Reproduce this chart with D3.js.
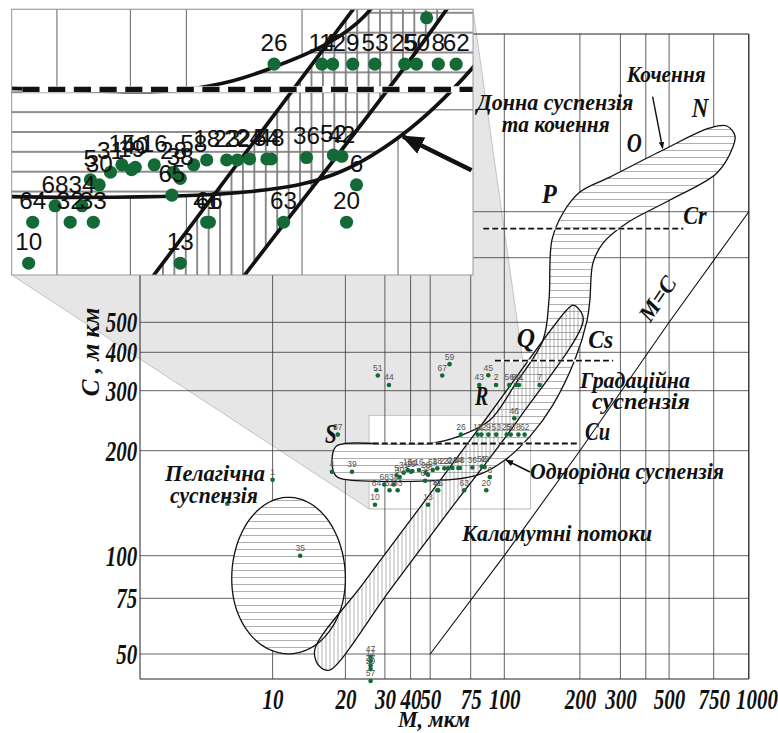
<!DOCTYPE html>
<html>
<head>
<meta charset="utf-8">
<script src="https://cdn.jsdelivr.net/npm/d3@7"></script>
<style>
  body { margin: 0; background: #fff; }
  svg { display: block; }
  .ann { font-family: "Liberation Serif", serif; font-weight: bold; font-style: italic; fill: #111; }
</style>
</head>
<body>
<svg width="778" height="733"></svg>
<script>
// axis ticks
const mTicks = [10, 20, 30, 40, 50, 75, 100, 200, 300, 400, 500, 750, 1000];
const mTickLabels = [10, 20, 30, 40, 50, 75, 100, 200, 300, 500, 750, 1000];
const cTicks = [50, 75, 100, 200, 300, 400, 500, 750, 1000];
const cTickLabels = [50, 75, 100, 200, 300, 400, 500];

// samples: label, M (mkm), C (mkm)
const pointLabels = ['51','44','67','59','45','43','2','56','60','61','7','46','37','4','39','1','11','35',
  '47','17','27','29','57','26','14','12','9','53','25','50','8','62','64','10','68','32','33','34','30','5',
  '31','15','19','40','16','28','38','65','58','18','23','22','24','54','48','36','52','42','6','20','63','41','66','13'];
const pointM = [27.9,31.4,56.4,60.7,87.2,80.7,93.2,104.7,111.3,114.4,138.3,109.6,18.6,17.6,21.4,10.0,6.5,13.0,
  25.9,25.9,25.9,25.9,25.9,68.0,79.6,82.2,87.3,93.3,102.2,106.1,113.8,120.5,27.5,27.1,29.8,31.6,34.6,33.1,35.4,34.2,
  37.0,38.7,40.2,40.8,44.0,47.5,48.8,47.2,51.3,53.7,57.6,59.8,62.4,66.3,67.3,76.0,82.4,84.5,88.3,85.7,70.3,53.7,54.2,48.8];
const pointC = [336,313,336,366,337,313,313,313,313,313,313,249,223,174,174,165,141,100,
  49,47.5,46,44.8,41.1,223,223,223,223,223,223,223,223,223,154,140,160,154,154,160,168,170,
  173,176,174,175,176,173,170.5,164,176,178,178,178,178.4,178.4,178.4,179,180,179.5,168,154,154,154,154,140];

// N-O-P-Q-R-S band (rolling, graded and uniform suspension), [M, C]
const suspensionBand = [[19.9,210],[50,210],[67.4,221],[88.5,246],[110,313],[142.6,438],[150.6,575],[154.8,838],
  [171.3,992],[200,1131],[270,1242],[472,1471],[725,1688],[836,1709],[893,1606],[878,1499],[770,1274],[504,1076],
  [323,932],[252,822],[228,726],[221,575],[215,507],[191,378],[156,272],[127,221],[100.6,188],[82.3,172],
  [62.8,165.4],[19.9,165.4],[18.3,169.2],[17.6,187],[18.3,206]];
// turbidity currents band, [M, C]
const turbidityBand = [[15.0,52.2],[23.8,82.3],[40,126.6],[87.3,253.7],[177.2,540],[187.7,557],[196.5,547],
  [206.9,507],[114.4,248.4],[61.1,135.7],[31.8,79.4],[17.27,44.5],[16.16,44.8],[15.12,47.5]];
// pelagic suspension ellipse: centre [M, C], half axes in decades
const pelagicCentre = [11.64, 85.8];
const pelagicRadius = [0.235, 0.234];

// Cr, Cs, Cu levels
const levelC = [899, 376, 210];
const levelFromM = [83.5, 92.3, 26.5];
const levelToM = [569, 279, 196.5];
// M = C line
const mcLine = [50, 100, 200, 500, 1000];
// arrows [M, C] from -> to
const uniformArrow = [[126.6, 173.8], [101.6, 188]];
const rollingArrow = [[427, 2053], [470, 1487]];
// magnified region
const zoomM = [25.5, 127.2];
const zoomC = [136.2, 254.1];

const plotTop = 34, plotBottom = 679, plotLeft = 140;
const x = d3.scaleLog().domain(mTicks)
  .range([272.6, 345.4, 384.9, 410.6, 430.2, 470.7, 504.3, 579.9, 620.4, 645.8, 669.1, 713.7, 748.8]);
const y = d3.scaleLog().domain(cTicks)
  .range([654, 598.3, 555.7, 450.7, 390.7, 352.3, 322.3, 257.7, 211.7]);
const plotRight = x(1000);

const svg = d3.select('svg');
const defs = svg.append('defs');

const hatch = (id, w, h, x1, y1, x2, y2) => {
  defs.append('pattern').attr('id', id).attr('patternUnits', 'userSpaceOnUse')
    .attr('width', w).attr('height', h)
    .append('line').attr('x1', x1).attr('y1', y1).attr('x2', x2).attr('y2', y2)
    .attr('stroke', '#7a7a7a').attr('stroke-width', 0.6);
};
hatch('hatchH', 10, 7, 0, 3.5, 10, 3.5);
hatch('hatchV', 4, 10, 2, 0, 2, 10);

defs.append('marker').attr('id', 'arrow').attr('viewBox', '0 0 10 10')
  .attr('refX', 9).attr('refY', 5).attr('markerWidth', 5).attr('markerHeight', 5)
  .attr('orient', 'auto')
  .append('path').attr('d', 'M0,1L10,5L0,9Z').attr('fill', '#111');

// magnifier connector
const inset = {x0: 11.7, y0: 9.3, x1: 473, y1: 275};
const zx0 = x(zoomM[0]), zx1 = x(zoomM[1]), zy0 = y(zoomC[1]), zy1 = y(zoomC[0]);
svg.append('path')
  .attr('d', `M${inset.x0},${inset.y0}L${inset.x1},${inset.y0}L${zx1},${zy0}L${zx1},${zy1}L${zx0},${zy1}L${inset.x0},${inset.y1}Z`)
  .attr('fill', '#e6e6e6').attr('stroke', '#b0b0b0').attr('stroke-width', 0.7);
svg.append('rect').attr('x', zx0).attr('y', zy0).attr('width', zx1 - zx0).attr('height', zy1 - zy0)
  .attr('fill', '#fff').attr('stroke', '#b0b0b0').attr('stroke-width', 0.7);

const wrap = svg.append('g').attr('fill', '#555');
const content = wrap.append('g').attr('id', 'content');

// grid
content.append('g').selectAll('line').data(mTicks).join('line')
  .attr('x1', d => x(d)).attr('x2', d => x(d)).attr('y1', plotTop).attr('y2', plotBottom)
  .attr('stroke', '#3a3a3a').attr('stroke-width', 0.8).attr('vector-effect', 'non-scaling-stroke');
content.append('g').selectAll('line').data(cTicks).join('line')
  .attr('x1', plotLeft).attr('x2', plotRight).attr('y1', d => y(d)).attr('y2', d => y(d))
  .attr('stroke', '#3a3a3a').attr('stroke-width', 0.8).attr('vector-effect', 'non-scaling-stroke');
content.append('rect').attr('x', plotLeft).attr('y', plotTop)
  .attr('width', plotRight - plotLeft).attr('height', plotBottom - plotTop)
  .attr('fill', 'none').attr('stroke', '#222').attr('stroke-width', 1).attr('vector-effect', 'non-scaling-stroke');

// regions
const closed = d3.line().x(d => x(d[0])).y(d => y(d[1])).curve(d3.curveCatmullRomClosed.alpha(0.5));
const ellipse = d3.range(0, 360, 4).map(a => {
  const t = a * Math.PI / 180;
  return [Math.pow(10, Math.log10(pelagicCentre[0]) + pelagicRadius[0] * Math.cos(t)),
          Math.pow(10, Math.log10(pelagicCentre[1]) + pelagicRadius[1] * Math.sin(t))];
});
const ellipsePath = d3.line().x(d => x(d[0])).y(d => y(d[1])).curve(d3.curveLinearClosed)(ellipse);
const regions = [
  {d: ellipsePath, hatch: 'hatchH'},
  {d: closed(suspensionBand), hatch: 'hatchH'},
  {d: closed(turbidityBand), hatch: 'hatchV'}
];
const reg = content.append('g');
regions.forEach(r => reg.append('path').attr('d', r.d).attr('fill', '#fff'));
regions.forEach(r => reg.append('path').attr('d', r.d).attr('fill', `url(#${r.hatch})`));
regions.forEach(r => reg.append('path').attr('d', r.d).attr('fill', 'none')
  .attr('stroke', '#111').attr('stroke-width', 1.3));

// M = C
content.append('path')
  .attr('d', d3.line().x(d => x(d)).y(d => y(d))(mcLine))
  .attr('fill', 'none').attr('stroke', '#111').attr('stroke-width', 1.1);

// levels: white underlay so the gaps read as gaps
const levels = content.append('g');
levels.selectAll('line.under').data(levelC).join('line').attr('class', 'under')
  .attr('x1', (d, i) => x(levelFromM[i])).attr('x2', (d, i) => x(levelToM[i]))
  .attr('y1', d => y(d)).attr('y2', d => y(d))
  .attr('stroke', '#fff').attr('stroke-width', 2.2);
levels.selectAll('line.dash').data(levelC).join('line').attr('class', 'dash')
  .attr('x1', (d, i) => x(levelFromM[i])).attr('x2', (d, i) => x(levelToM[i]))
  .attr('y1', d => y(d)).attr('y2', d => y(d))
  .attr('stroke', '#111').attr('stroke-width', 1.8).attr('stroke-dasharray', '6 3');

// arrow to uniform suspension
content.append('line')
  .attr('x1', x(uniformArrow[0][0])).attr('y1', y(uniformArrow[0][1]))
  .attr('x2', x(uniformArrow[1][0])).attr('y2', y(uniformArrow[1][1]))
  .attr('stroke', '#111').attr('stroke-width', 1.6).attr('marker-end', 'url(#arrow)');

// points
const pts = content.append('g');
pts.selectAll('circle').data(pointLabels).join('circle')
  .attr('cx', (d, i) => x(pointM[i])).attr('cy', (d, i) => y(pointC[i])).attr('r', 2.3)
  .attr('fill', '#136a36');
pts.selectAll('text').data(pointLabels).join('text')
  .attr('x', (d, i) => x(pointM[i])).attr('y', (d, i) => y(pointC[i]) - 4.6)
  .attr('text-anchor', 'middle').attr('font-family', 'Liberation Sans, Arial, sans-serif')
  .attr('font-size', 8.5).text(d => d);

// annotations
const ann = svg.append('g');
const notes = [
  {t: 'Кочення', x: 626.7, y: 81.7, w: 79, s: 23},
  {t: 'Донна суспензія', x: 476.7, y: 110, w: 156.6, s: 23},
  {t: 'та кочення', x: 501.7, y: 131.7, w: 108, s: 23},
  {t: 'N', x: 691.7, y: 116.7, w: 16.6, s: 28},
  {t: 'O', x: 626.7, y: 151.7, w: 15, s: 28},
  {t: 'P', x: 541.7, y: 203.3, w: 15, s: 28},
  {t: 'Cr', x: 683.3, y: 224, w: 23.4, s: 26},
  {t: 'Q', x: 516.7, y: 346.7, w: 18.3, s: 28},
  {t: 'Cs', x: 588.3, y: 348.3, w: 25, s: 26},
  {t: 'Градаційна', x: 580, y: 388, w: 110, s: 23},
  {t: 'суспензія', x: 592, y: 409, w: 98, s: 23},
  {t: 'R', x: 475, y: 405, w: 13.3, s: 28},
  {t: 'Cu', x: 585, y: 440, w: 25, s: 26},
  {t: 'S', x: 325, y: 443.3, w: 11.7, s: 28},
  {t: 'Однорідна суспензія', x: 530, y: 479, w: 194, s: 23},
  {t: 'Каламутні потоки', x: 462, y: 541, w: 190, s: 23},
  {t: 'Пелагічна', x: 165, y: 481, w: 100, s: 23},
  {t: 'суспензія', x: 170, y: 503, w: 88, s: 23},
  {t: 'M, мкм', x: 398, y: 727, w: 72, s: 23}
];
ann.selectAll('text').data(notes).join('text').attr('class', 'ann')
  .attr('x', d => d.x).attr('y', d => d.y).attr('font-size', d => d.s)
  .attr('textLength', d => d.w).attr('lengthAdjust', 'spacingAndGlyphs').text(d => d.t);
ann.append('text').attr('class', 'ann').attr('font-size', 23)
  .attr('transform', 'translate(664,303) rotate(-56)').attr('text-anchor', 'middle').text('M=C');
ann.append('text').attr('class', 'ann').attr('font-size', 25).attr('text-anchor', 'middle')
  .attr('transform', 'translate(99,352) rotate(-90)').text('C , м км');
ann.append('line')
  .attr('x1', x(rollingArrow[0][0])).attr('y1', y(rollingArrow[0][1]))
  .attr('x2', x(rollingArrow[1][0])).attr('y2', y(rollingArrow[1][1]))
  .attr('stroke', '#111').attr('stroke-width', 1.4).attr('marker-end', 'url(#arrow)');

// axes
const xAxis = svg.append('g').attr('transform', `translate(0,${plotBottom})`)
  .call(d3.axisBottom(x).tickValues(mTickLabels).tickFormat(d3.format('d')).tickSize(0).tickPadding(9));
const yAxis = svg.append('g').attr('transform', `translate(${plotLeft},0)`)
  .call(d3.axisLeft(y).tickValues(cTickLabels).tickFormat(d3.format('d')).tickSize(0).tickPadding(4));
[xAxis, yAxis].forEach(a => {
  a.select('.domain').remove();
  a.selectAll('text').attr('class', 'ann').attr('font-size', 30).attr('fill', '#111')
    .attr('transform', 'scale(0.7,1)');
});
xAxis.selectAll('.tick').filter(d => d === 1000).select('text').attr('x', 11);

// magnified inset
const sx = (inset.x1 - inset.x0) / (zx1 - zx0), sy = (inset.y1 - inset.y0) / (zy1 - zy0);
defs.append('clipPath').attr('id', 'insetClip').append('rect')
  .attr('x', inset.x0).attr('y', inset.y0).attr('width', inset.x1 - inset.x0).attr('height', inset.y1 - inset.y0);
const insetG = svg.append('g');
insetG.append('rect').attr('x', inset.x0).attr('y', inset.y0)
  .attr('width', inset.x1 - inset.x0).attr('height', inset.y1 - inset.y0).attr('fill', '#fff');
insetG.append('g').attr('clip-path', 'url(#insetClip)')
  .append('use').attr('href', '#content').attr('fill', '#111')
  .attr('transform', `translate(${inset.x0},${inset.y0}) scale(${sx},${sy}) translate(${-zx0},${-zy0})`);
insetG.append('rect').attr('x', inset.x0).attr('y', inset.y0)
  .attr('width', inset.x1 - inset.x0).attr('height', inset.y1 - inset.y0)
  .attr('fill', 'none').attr('stroke', '#999').attr('stroke-width', 1);
</script>
</body>
</html>
